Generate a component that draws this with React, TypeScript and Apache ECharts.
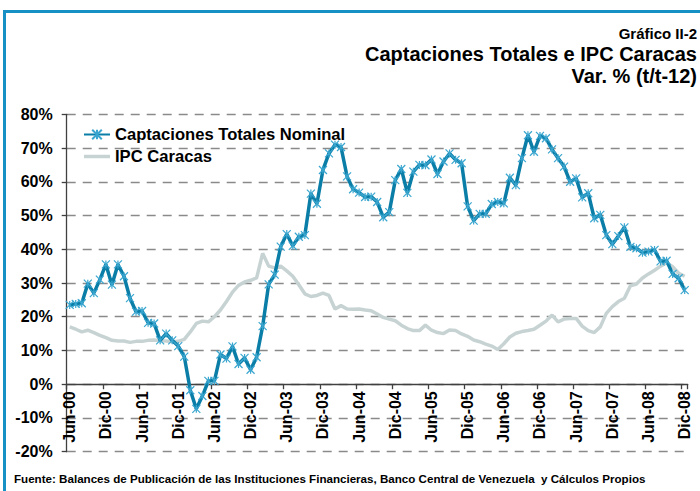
import React, { useEffect, useRef } from 'react';
import * as echarts from 'echarts';

const MONTH_NAMES = ['Ene', 'Feb', 'Mar', 'Abr', 'May', 'Jun', 'Jul', 'Ago', 'Sep', 'Oct', 'Nov', 'Dic'];
const START_YEAR = 2000;
const START_MONTH = 5; // Jun
const N_MONTHS = 103; // Jun-00 .. Dic-08

const categories: string[] = [];
for (let i = 0; i < N_MONTHS; i++) {
  const mi = START_MONTH + i;
  const y = START_YEAR + Math.floor(mi / 12);
  categories.push(MONTH_NAMES[mi % 12] + '-' + String(y % 100).padStart(2, '0'));
}

const captaciones = [
  23.5, 23.8, 24, 29.8, 27, 31, 35.5, 29.5, 35.5, 32,
  25.5, 21.5, 21.7, 18.2, 18, 13, 15, 13, 11.3, 8.2,
  -1.8, -7.3, -3.5, 1, 1, 8.8, 7.6, 11.2, 6, 7.8,
  4.3, 8, 17.2, 29.6, 32.5, 40.8, 44.5, 41, 43.7, 44.2,
  56.5, 53.5, 63.5, 68.4, 71, 70.3, 61.6, 57.8, 56.8, 55.5,
  55.6, 54, 49.5, 51, 60.5, 63.8, 56.7, 63, 65, 64.9,
  66.6, 62.3, 66, 68.4, 66.5, 65.5, 52.7, 48.5, 50.5, 50.5,
  53.4, 54, 53.6, 61.2, 59, 67, 73.8, 68.9, 73.6, 72.9,
  69.6, 67, 64.5, 60, 61, 55.4, 56.6, 49.2, 50.2, 44.2,
  41.5, 43.9, 46.5, 40.7, 40.3, 39, 39.3, 39.8, 36.4, 36.6,
  32.7, 31.4, 27.9,
];

const ipcCaracas = [
  17.0, 16.3, 15.5, 16.0, 15.3, 14.5, 13.8, 13.0, 12.8, 12.8,
  12.4, 12.7, 12.7, 13.0, 13.1, 12.9, 12.8, 12.6, 12.7, 13.3,
  15.5, 18.0, 18.7, 18.5, 20.0, 22.0, 24.5, 27.3, 29.3, 30.3,
  30.8, 31.5, 38.8, 35.0, 34.5, 35.0, 33.6, 32.0, 29.5, 26.8,
  26.0, 26.3, 27.0, 26.3, 22.3, 23.3, 22.3, 22.2, 22.3, 22.0,
  21.8, 20.8, 19.8, 19.3, 18.8, 17.5, 16.5, 15.9, 15.9, 17.5,
  16.0, 15.3, 15.0, 16.1, 15.9, 14.9, 14.2, 13.1, 12.6, 11.9,
  11.3, 10.3, 12.0, 14.0, 15.1, 15.6, 15.9, 16.3, 17.5, 18.7,
  20.5, 18.5, 19.3, 19.5, 19.5, 17.2, 15.9, 15.3, 17.0, 21.0,
  23.0, 24.5, 25.5, 29.2, 29.7, 31.5, 32.7, 33.8, 35.0, 36.0,
  34.8, 32.9, 32.0,
];

const SERIES_NAMES = ['Captaciones Totales Nominal', 'IPC Caracas'];
const Y_MIN = -20;
const Y_MAX = 80;
const Y_STEP = 10;

const TITLE_SMALL = 'Gráfico II-2';
const TITLE_MAIN = 'Captaciones Totales e IPC Caracas';
const TITLE_SUB = 'Var. % (t/t-12)';
const SOURCE = 'Fuente: Balances de Publicación de las Instituciones Financieras, Banco Central de Venezuela  y Cálculos Propios';

const FONT = '"Liberation Sans", Arial, Helvetica, sans-serif';
const BLUE = '#0b7ea8';
const MARKER = '#3aa6cf';
const GRAY = '#c7d3d3';
const FRAME = '#1790c6';

const STAR = 'path://M0,0L10,10M10,0L0,10M5,0L5,10';
const BAR_ICON = 'path://M0,0H30V4H0Z';

// plot geometry
const GRID_TOP = 114.3;
const GRID_BOTTOM = 39.3;
const PLOT_H = 491 - GRID_TOP - GRID_BOTTOM;
const ZERO_OFFSET = -(PLOT_H * (0 - Y_MIN)) / (Y_MAX - Y_MIN);

export default function App() {
  const ref = useRef<HTMLDivElement>(null);

  useEffect(() => {
    if (!ref.current) return;
    const chart = echarts.init(ref.current, undefined, { renderer: 'svg' });
    chart.setOption({
      animation: false,
      backgroundColor: '#ffffff',
      textStyle: { fontFamily: FONT },
      grid: {
        left: 66.7,
        right: 12.3,
        top: GRID_TOP,
        bottom: GRID_BOTTOM,
        containLabel: false,
        outerBoundsMode: 'none',
      },
      legend: {
        orient: 'vertical',
        left: 78,
        top: 121,
        itemWidth: 26,
        itemHeight: 12,
        itemGap: 5,
        data: [
          { name: SERIES_NAMES[0] },
          { name: SERIES_NAMES[1], icon: BAR_ICON },
        ],
        textStyle: {
          fontSize: 16.6,
          fontWeight: 'bold',
          color: '#000',
          fontFamily: FONT,
        },
      },
      xAxis: {
        type: 'category',
        data: categories,
        boundaryGap: true,
        offset: ZERO_OFFSET,
        axisLine: { onZero: false, lineStyle: { color: '#404040', width: 1.3 } },
        axisTick: { show: true, interval: 5, length: 5, lineStyle: { color: '#404040', width: 1.3 } },
        axisLabel: {
          interval: 5,
          rotate: 90,
          margin: 7,
          fontSize: 16,
          fontWeight: 'bold',
          color: '#000',
          fontFamily: FONT,
        },
        splitLine: { show: false },
      },
      yAxis: {
        type: 'value',
        min: Y_MIN,
        max: Y_MAX,
        interval: Y_STEP,
        axisLine: { show: true, lineStyle: { color: '#404040', width: 1.3 } },
        axisTick: { show: true, length: 5, lineStyle: { color: '#404040', width: 1.3 } },
        axisLabel: {
          margin: 14,
          fontSize: 16,
          fontWeight: 'bold',
          color: '#000',
          fontFamily: FONT,
          formatter: (v: number) => v + '%',
        },
        splitLine: { show: true, lineStyle: { color: '#8a8a8a', width: 1.3, type: [9, 7] } },
      },
      series: [
        {
          name: SERIES_NAMES[1],
          type: 'line',
          data: ipcCaracas,
          symbol: 'none',
          smooth: false,
          lineStyle: { color: GRAY, width: 3.5 },
          itemStyle: { color: GRAY },
          z: 2,
        },
        {
          name: SERIES_NAMES[0],
          type: 'line',
          data: captaciones,
          symbol: STAR,
          symbolSize: 8,
          showAllSymbol: true,
          lineStyle: { color: BLUE, width: 3.5 },
          itemStyle: { color: 'rgba(0,0,0,0)', borderColor: MARKER, borderWidth: 1.2 },
          z: 3,
        },
      ],
      graphic: [
        { type: 'rect', shape: { x: 3, y: 10, width: 697, height: 3 }, style: { fill: FRAME }, silent: true },
        { type: 'rect', shape: { x: 3, y: 10, width: 3, height: 481 }, style: { fill: FRAME }, silent: true },
        {
          type: 'text', x: 697, y: 33,
          style: { text: TITLE_SMALL, fill: '#000', font: 'bold 15px ' + FONT, align: 'right', verticalAlign: 'middle' },
        },
        {
          type: 'text', x: 697, y: 54,
          style: { text: TITLE_MAIN, fill: '#000', font: 'bold 20px ' + FONT, align: 'right', verticalAlign: 'middle' },
        },
        {
          type: 'text', x: 697, y: 76,
          style: { text: TITLE_SUB, fill: '#000', font: 'bold 20px ' + FONT, align: 'right', verticalAlign: 'middle' },
        },
        {
          type: 'text', x: 14, y: 478,
          style: { text: SOURCE, fill: '#000', font: 'bold 11.6px ' + FONT, align: 'left', verticalAlign: 'middle' },
        },
      ],
    });
    return () => chart.dispose();
  }, []);

  return (
    <div
      ref={ref}
      style={{ position: 'absolute', left: 0, top: 0, width: 700, height: 491 }}
    />
  );
}
